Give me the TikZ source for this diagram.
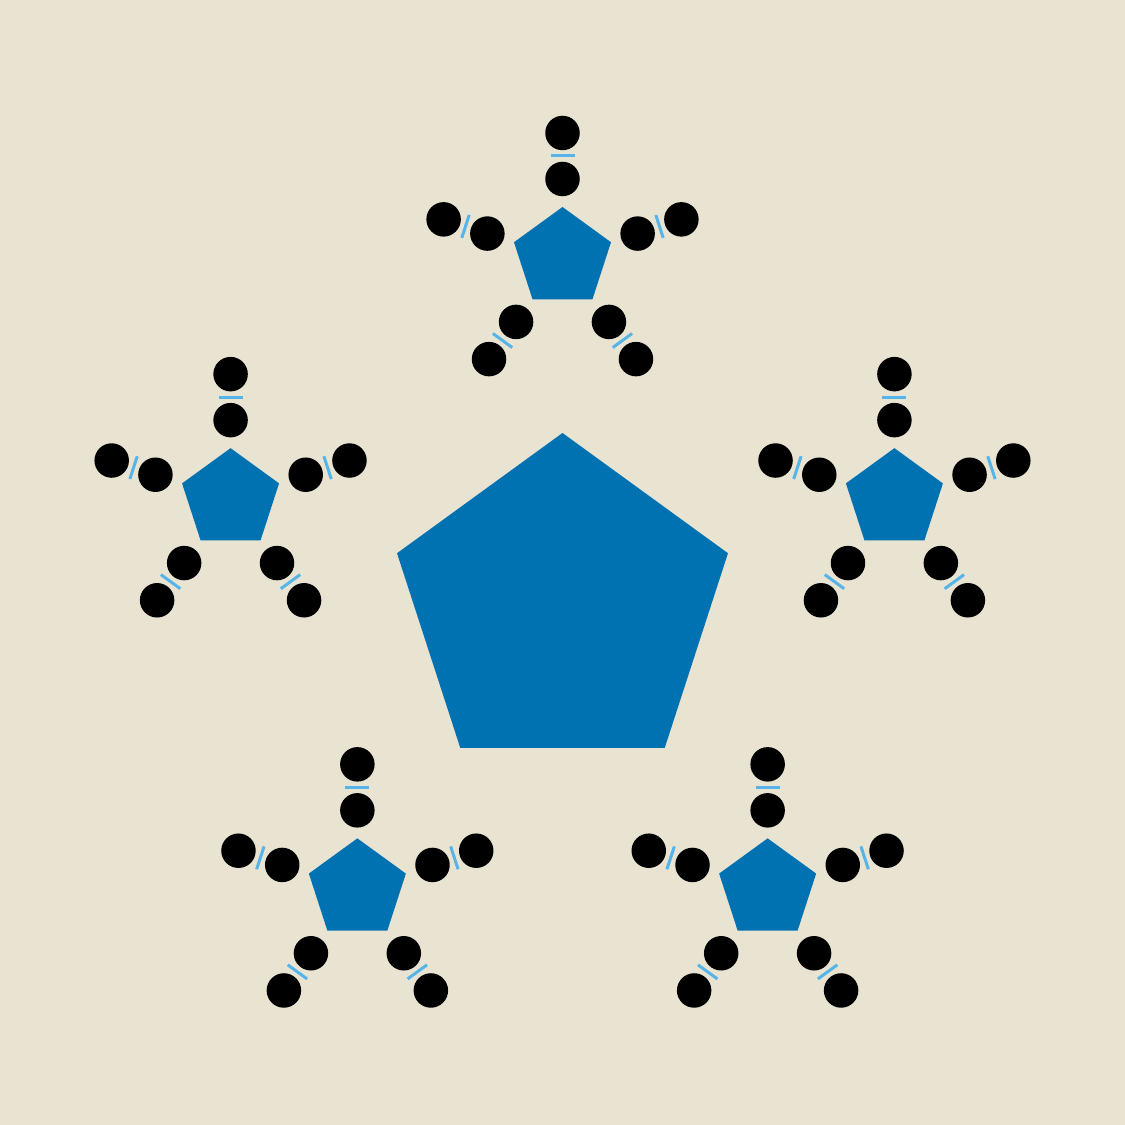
\documentclass[tikz,border=0pt]{standalone}
\usetikzlibrary{shapes.geometric,calc}
\definecolor{bgBeige}{HTML}{E9E4D2}
\definecolor{pentBlue}{HTML}{0072B2}
\definecolor{bondBlue}{HTML}{56B4E9}
\begin{document}
\begin{tikzpicture}[x=0.1mm,y=0.1mm,
    molCore/.style={regular polygon,regular polygon sides=5,fill=pentBlue,inner sep=0pt,outer sep=0pt},
    molDot/.style={circle,fill=black,inner sep=0pt,minimum size=3.45mm},
    molBond/.style={draw=bondBlue,line width=0.85pt},
]
% background
\fill[bgBeige] (-562.5,-518) rectangle (562.5,607);
% central pentagon
\node[molCore,minimum size=34.8mm] (core) at (0,0) {};
% five small units around it
\foreach \i in {0,...,4} {
  \node[molCore,minimum size=10.2mm] (sub\i) at ({90+72*\i}:349) {};
  \foreach \j in {0,...,4} {
    \node[molDot] (in\i\j) at ($(sub\i)+({90+72*\j}:79)$) {};
    \node[molDot] (out\i\j) at ($(sub\i)+({90+72*\j}:125)$) {};
    % bond bar between the two dots
    \draw[molBond] ($(in\i\j)!0.5!(out\i\j)!1.2mm!90:(out\i\j)$) -- ($(in\i\j)!0.5!(out\i\j)!1.2mm!-90:(out\i\j)$);
  }
}
\end{tikzpicture}
\end{document}
